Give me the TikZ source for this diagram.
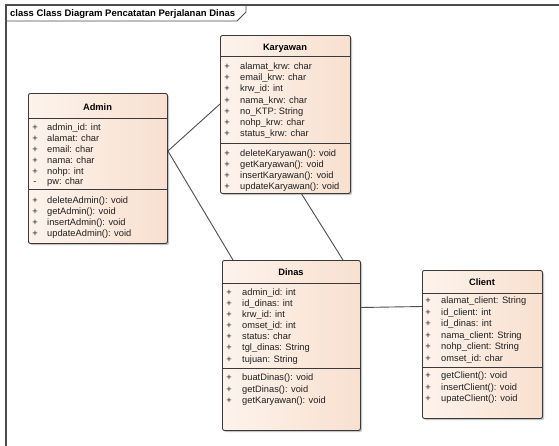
\documentclass[tikz,border=0pt]{standalone}
\usepackage{fontspec}
\setmainfont{Liberation Sans}
\usetikzlibrary{shadows}
\definecolor{peachL}{HTML}{FDF3EC}
\definecolor{peachR}{HTML}{F8E0CF}
\definecolor{edgec}{HTML}{3A3A3A}
\definecolor{txtc}{HTML}{202020}
\begin{document}
\begin{tikzpicture}[x=1pt,y=-1pt,
  umlbox/.style={draw=edgec, line width=0.9pt, rounded corners=2pt, left color=peachL, right color=peachR, shading angle=90, inner sep=0pt, anchor=north west,
    drop shadow={shadow xshift=1.6pt, shadow yshift=-1.6pt, fill=black!45, opacity=0.5}},
  divline/.style={draw=edgec, line width=1pt},
  rowtxt/.style={font=\fontsize{9.3}{11}\selectfont, text=txtc, inner sep=0pt, anchor=base west},
  plustxt/.style={font=\fontsize{9.3}{11}\selectfont, text=txtc, inner sep=0pt, anchor=base},
  headtxt/.style={font=\bfseries\fontsize{9.3}{11}\selectfont, text=black, inner sep=0pt, anchor=base},
  assoc/.style={draw=edgec!90, line width=0.9pt},
  frameline/.style={draw=black!70, line width=1.4pt}
]
\useasboundingbox (0,0) rectangle (559,445);
\fill[white] (0,0) rectangle (559,445);
% frame
\draw[frameline] (6,460) -- (6,5) -- (570,5);
\draw[draw=black!70, line width=0.9pt] (6,21) -- (237,21) -- (246,12) -- (246,5);
\node[font=\bfseries\fontsize{9.5}{10}\selectfont, inner sep=0pt, anchor=base west] (frametitle) at (10,16.5) {class Class Diagram Pencatatan Perjalanan Dinas};

% ---------- Admin ----------
\node[umlbox, minimum width=139pt, minimum height=150pt] (admin) at (28,93) {};
\node[headtxt] (adminT) at (97.5,110.5) {Admin};
\draw[divline] (28,118) -- (167,118);
\draw[divline] (28,189.5) -- (167,189.5);
\foreach \s/\t [count=\i] in {+/admin\_id: int, +/alamat: char, +/email: char, +/nama: char, +/nohp: int, -/pw: char}{
  \node[plustxt] (adminP\i) at (35,{127+10.9*(\i-1)+3.4}) {\s};
  \node[rowtxt] (adminA\i) at (47,{127+10.9*(\i-1)+3.4}) {\t};
}
\foreach \t [count=\i] in {deleteAdmin(): void, getAdmin(): void, insertAdmin(): void, updateAdmin(): void}{
  \node[plustxt] (adminQ\i) at (35,{200+11*(\i-1)+3.4}) {+};
  \node[rowtxt] (adminM\i) at (47,{200+11*(\i-1)+3.4}) {\t};
}

% ---------- Karyawan ----------
\node[umlbox, minimum width=130pt, minimum height=158pt] (kary) at (220,35) {};
\node[headtxt] (karyT) at (285,50.5) {Karyawan};
\draw[divline] (220,56) -- (350,56);
\draw[divline] (220,143) -- (350,143);
\foreach \t [count=\i] in {alamat\_krw: char, email\_krw: char, krw\_id: int, nama\_krw: char, no\_KTP: String, nohp\_krw: char, status\_krw: char}{
  \node[plustxt] (karyP\i) at (227,{66+11.2*(\i-1)+3.4}) {+};
  \node[rowtxt] (karyA\i) at (240,{66+11.2*(\i-1)+3.4}) {\t};
}
\foreach \t [count=\i] in {deleteKaryawan(): void, getKaryawan(): void, insertKaryawan(): void, updateKaryawan(): void}{
  \node[plustxt] (karyQ\i) at (227,{153+11*(\i-1)+3.4}) {+};
  \node[rowtxt] (karyM\i) at (240,{153+11*(\i-1)+3.4}) {\t};
}

% ---------- Dinas ----------
\node[umlbox, minimum width=138pt, minimum height=170pt] (dinas) at (222,260) {};
\node[headtxt] (dinasT) at (291,275.5) {Dinas};
\draw[divline] (222,283) -- (360,283);
\draw[divline] (222,368) -- (360,368);
\foreach \t [count=\i] in {admin\_id: int, id\_dinas: int, krw\_id: int, omset\_id: int, status: char, tgl\_dinas: String, tujuan: String}{
  \node[plustxt] (dinasP\i) at (229,{292+11.1*(\i-1)+3.4}) {+};
  \node[rowtxt] (dinasA\i) at (242,{292+11.1*(\i-1)+3.4}) {\t};
}
\foreach \t [count=\i] in {buatDinas(): void, getDinas(): void, getKaryawan(): void}{
  \node[plustxt] (dinasQ\i) at (229,{377.5+11.3*(\i-1)+3.4}) {+};
  \node[rowtxt] (dinasM\i) at (242,{377.5+11.3*(\i-1)+3.4}) {\t};
}

% ---------- Client ----------
\node[umlbox, minimum width=120pt, minimum height=148pt] (client) at (422,270) {};
\node[headtxt] (clientT) at (482,285.5) {Client};
\draw[divline] (422,293) -- (542,293);
\draw[divline] (422,367) -- (542,367);
\foreach \t [count=\i] in {alamat\_client: String, id\_client: int, id\_dinas: int, nama\_client: String, nohp\_client: String, omset\_id: char}{
  \node[plustxt] (clientP\i) at (428,{300.5+11.5*(\i-1)+3.4}) {+};
  \node[rowtxt] (clientA\i) at (441,{300.5+11.5*(\i-1)+3.4}) {\t};
}
\foreach \t [count=\i] in {getClient(): void, insertClient(): void, upateClient(): void}{
  \node[plustxt] (clientQ\i) at (428,{375.5+11.3*(\i-1)+3.4}) {+};
  \node[rowtxt] (clientM\i) at (441,{375.5+11.3*(\i-1)+3.4}) {\t};
}

% ---------- connectors ----------
\coordinate (adminJ) at (admin.east |- 0,151);
\coordinate (karyL) at (kary.west |- 0,104);
\coordinate (dinasTL) at (233,260);
\coordinate (karyB) at (301,193);
\coordinate (dinasTR) at (343,260);
\coordinate (dinasR) at (dinas.east |- 0,307.5);
\coordinate (clientL) at (client.west |- 0,306.5);
\draw[assoc] (adminJ) -- (karyL);
\draw[assoc] (adminJ) -- (dinasTL);
\draw[assoc] (karyB) -- (dinasTR);
\draw[assoc] (dinasR) -- (clientL);
\end{tikzpicture}
\end{document}
